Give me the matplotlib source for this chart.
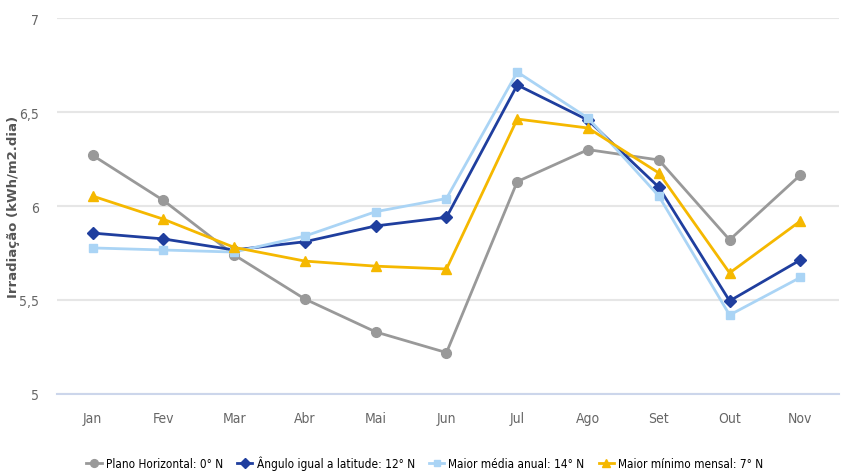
import matplotlib.pyplot as plt
import matplotlib.font_manager as fm

months = ['Jan', 'Fev', 'Mar', 'Abr', 'Mai', 'Jun', 'Jul', 'Ago', 'Set', 'Out', 'Nov']

plano_horizontal = [6.27, 6.03, 5.74, 5.505, 5.33, 5.22, 6.13, 6.30, 6.245, 5.82, 6.165]
angulo_latitude = [5.856, 5.825, 5.766, 5.81, 5.894, 5.94, 6.644, 6.457, 6.10, 5.495, 5.713]
maior_media = [5.777, 5.766, 5.755, 5.84, 5.97, 6.04, 6.713, 6.468, 6.053, 5.42, 5.62]
maior_minimo = [6.053, 5.93, 5.78, 5.707, 5.68, 5.665, 6.463, 6.415, 6.176, 5.644, 5.92]

labels = ['Plano Horizontal: 0° N', 'Ângulo igual a latitude: 12° N',
          'Maior média anual: 14° N', 'Maior mínimo mensal: 7° N']

# look for a condensed face, the original uses a narrow font
cond = [f for f in fm.fontManager.ttflist
        if 'condensed' in f.fname.lower() and 'bold' not in f.fname.lower()
        and 'oblique' not in f.fname.lower() and 'italic' not in f.fname.lower()]
if cond:
    fp = fm.FontProperties(fname=cond[0].fname)
else:
    fp = fm.FontProperties(family='DejaVu Sans')

fig = plt.figure(figsize=(8.41, 4.77), dpi=100)
ax = fig.add_axes([0.068, 0.172, 0.93, 0.788])

x = list(range(len(months)))
ax.plot(x, plano_horizontal, color='#999999', marker='o', markersize=7, lw=2, label=labels[0])
ax.plot(x, angulo_latitude, color='#1f3e9e', marker='D', markersize=6, lw=2, label=labels[1])
ax.plot(x, maior_media, color='#aad4f5', marker='s', markersize=6, lw=2, label=labels[2])
ax.plot(x, maior_minimo, color='#f5b800', marker='^', markersize=7, lw=2, label=labels[3])

ax.set_ylim(5, 7)
ax.set_xlim(-0.5, len(months) - 0.45)
ax.set_yticks([5, 5.5, 6, 6.5, 7])
ax.set_yticklabels(['5', '5,5', '6', '6,5', '7'])
ax.set_xticks(x)
ax.set_xticklabels(months)
ax.tick_params(axis='both', length=0, colors='#666666')
ax.tick_params(axis='x', pad=12)
ax.tick_params(axis='y', pad=13)
for t in ax.get_xticklabels() + ax.get_yticklabels():
    t.set_fontproperties(fp)
    t.set_fontsize(10)
ax.grid(axis='y', color='#e6e6e6', lw=1.5)
ax.set_axisbelow(True)
for s in ['top', 'right', 'left']:
    ax.spines[s].set_visible(False)
ax.spines['bottom'].set_color('#ccd6eb')
ax.spines['bottom'].set_linewidth(1.5)

fig.text(0.016, 0.566, 'Irradiação (kWh/m2.dia)', rotation=90, ha='center', va='center',
         fontsize=9.5, fontweight='bold', color='#555555', family='DejaVu Sans')

leg_fp = fp.copy()
leg_fp.set_size(8.5)
ax.legend(loc='upper center', bbox_to_anchor=(0.47, -0.135), ncol=4, frameon=False,
          prop=leg_fp, handlelength=1.3, columnspacing=1.2, handletextpad=0.35,
          markerscale=0.8)

fig.savefig('out.png', dpi=100)
